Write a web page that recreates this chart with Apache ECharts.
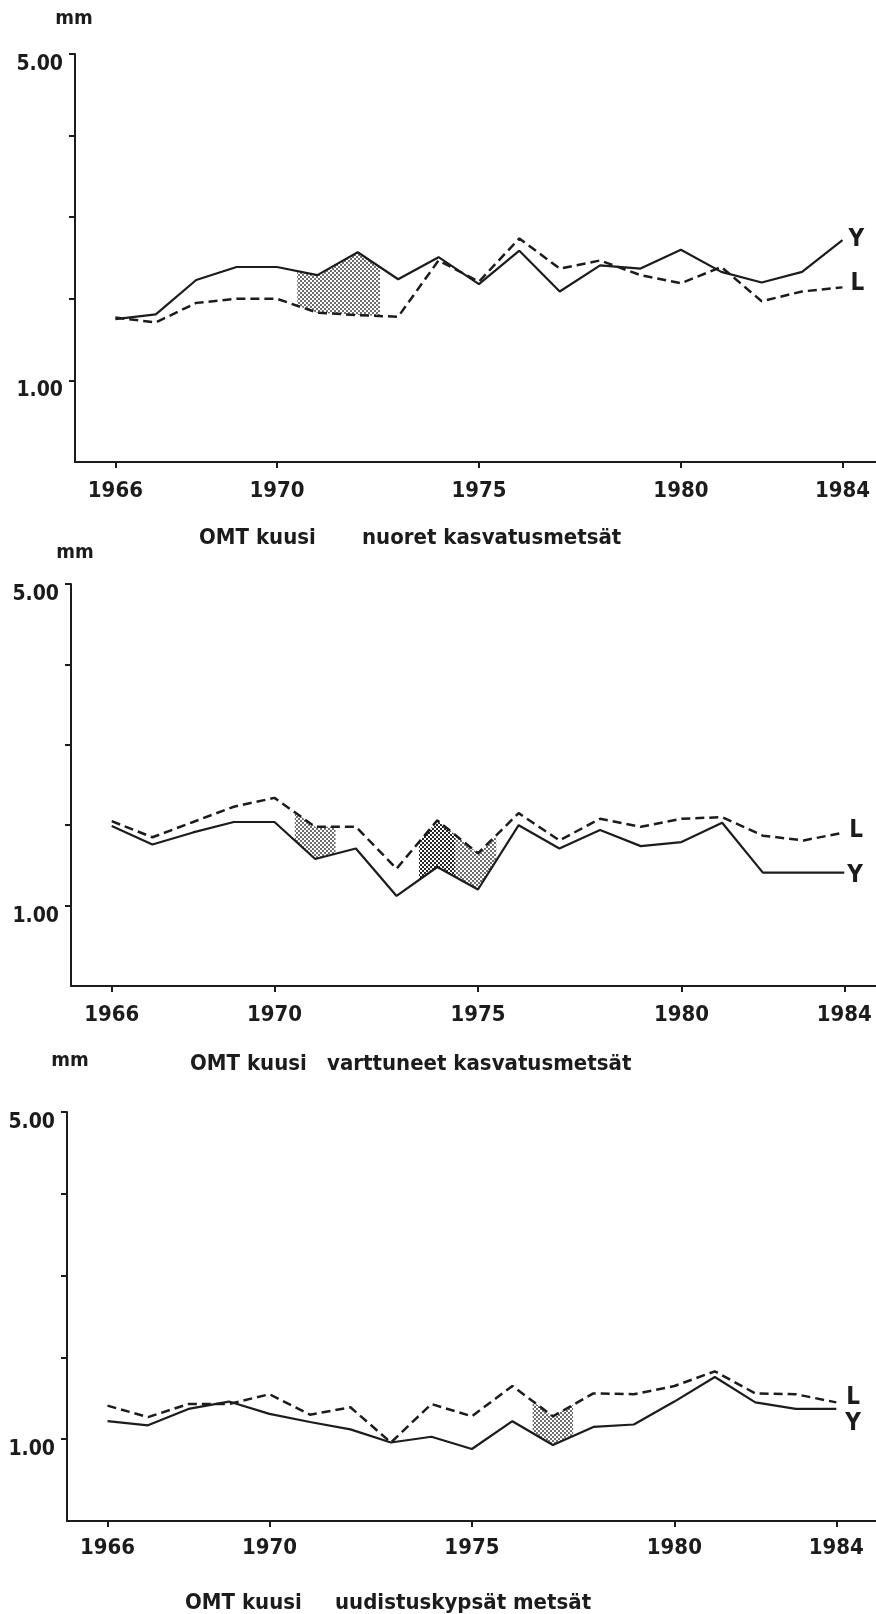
<!DOCTYPE html>
<html>
<head>
<meta charset="utf-8">
<script src="https://cdn.jsdelivr.net/npm/echarts@6/dist/echarts.min.js"></script>
<style>
  html, body { margin: 0; padding: 0; background: #fff; }
  #main { width: 876px; height: 1614px; }
</style>
</head>
<body>
<div id="main"></div>
<script>
// years on the x axis and the labelled ones
var years = [1966, 1967, 1968, 1969, 1970, 1971, 1972, 1973, 1974, 1975,
             1976, 1977, 1978, 1979, 1980, 1981, 1982, 1983, 1984];
var yearTicks = [1966, 1970, 1975, 1980, 1984];
var mmTicks = [1, 2, 3, 4, 5];
var mmLabels = [1, 5];

// nuoret kasvatusmetsät
var youngY = [1.75, 1.81, 2.23, 2.39, 2.39, 2.29, 2.57, 2.24, 2.51, 2.18,
              2.59, 2.09, 2.41, 2.37, 2.60, 2.33, 2.20, 2.33, 2.72];
var youngL = [1.77, 1.71, 1.95, 2.00, 2.00, 1.83, 1.80, 1.78, 2.47, 2.21,
              2.74, 2.37, 2.47, 2.29, 2.19, 2.39, 1.97, 2.09, 2.14];
// varttuneet kasvatusmetsät
var matureY = [1.99, 1.76, 1.91, 2.04, 2.04, 1.58, 1.71, 1.12, 1.48, 1.20,
               2.00, 1.71, 1.94, 1.74, 1.79, 2.03, 1.41, 1.41, 1.41];
var matureL = [2.05, 1.85, 2.04, 2.23, 2.34, 1.98, 1.98, 1.46, 2.06, 1.65,
               2.15, 1.81, 2.08, 1.98, 2.08, 2.10, 1.87, 1.81, 1.91];
// uudistuskypsät metsät
var oldY = [1.22, 1.17, 1.37, 1.46, 1.31, 1.21, 1.12, 0.96, 1.03, 0.88,
            1.22, 0.93, 1.15, 1.18, 1.46, 1.76, 1.45, 1.37, 1.37];
var oldL = [1.41, 1.27, 1.43, 1.43, 1.55, 1.30, 1.39, 0.96, 1.43, 1.28,
            1.65, 1.28, 1.56, 1.55, 1.65, 1.83, 1.56, 1.55, 1.45];

// stippled year ranges between the two lines: [from, to, dark?]
var youngShade = [[1970.5, 1972.55, 0]];
var matureShade = [[1970.5, 1971.5, 0], [1973.55, 1974.45, 1], [1974.45, 1975.45, 0]];
var oldShade = [[1976.5, 1977.5, 0]];

var titles = [
  ['OMT kuusi', 'nuoret kasvatusmetsät'],
  ['OMT kuusi', 'varttuneet kasvatusmetsät'],
  ['OMT kuusi', 'uudistuskypsät metsät']
];

var FONT = "'Liberation Sans Narrow', 'DejaVu Sans Condensed', 'Liberation Sans', sans-serif";
var INK = '#1c1c1c';

function stipple(dark) {
  var c = document.createElement('canvas');
  c.width = 4; c.height = 4;
  var g = c.getContext('2d');
  g.fillStyle = dark ? '#262626' : '#6e6e6e';
  g.fillRect(0, 0, 2, 2);
  g.fillRect(2, 2, 2, 2);
  return c;
}
var dots = [stipple(false), stipple(true)];

function valueAt(arr, x) {
  var i = Math.min(Math.floor(x - years[0]), arr.length - 2);
  var t = x - years[0] - i;
  return arr[i] + (arr[i + 1] - arr[i]) * t;
}

function shadeRenderer(a, b) {
  return function (params, api) {
    var x0 = api.value(0), x1 = api.value(1);
    var xs = [x0];
    for (var yr = Math.ceil(x0); yr < x1; yr++) { if (yr > x0) xs.push(yr); }
    xs.push(x1);
    var pts = [];
    xs.forEach(function (x) { pts.push(api.coord([x, valueAt(a, x)])); });
    xs.slice().reverse().forEach(function (x) { pts.push(api.coord([x, valueAt(b, x)])); });
    return {
      type: 'polygon',
      shape: { points: pts },
      style: { fill: { image: dots[api.value(2)], repeat: 'repeat' }, stroke: null }
    };
  };
}

var panels = [
  { left: 75, top: 54, height: 408, max: 1984.83, Y: youngY, L: youngL, shade: youngShade,
    yOff: [6, 0], lOff: [8, -4], xMargin: 18 },
  { left: 71, top: 584, height: 402, max: 1984.78, Y: matureY, L: matureL, shade: matureShade,
    yOff: [3, 3], lOff: [5, -2], xMargin: 18 },
  { left: 67, top: 1112, height: 409, max: 1984.98, Y: oldY, L: oldL, shade: oldShade,
    yOff: [9, 15], lOff: [10, -5], xMargin: 16 }
];

var grid = [], xAxis = [], yAxis = [], series = [];
var axisLine = { show: true, onZero: false, lineStyle: { color: INK, width: 2 } };
var tickStyle = { color: INK, width: 2 };

panels.forEach(function (p, k) {
  grid.push({ left: p.left, top: p.top, width: 876 - p.left, height: p.height });
  xAxis.push({
    gridIndex: k, type: 'value', min: 1965, max: p.max,
    axisLine: axisLine,
    axisTick: { show: true, customValues: yearTicks, length: 6, lineStyle: tickStyle },
    axisLabel: {
      customValues: yearTicks, margin: p.xMargin, color: INK,
      fontFamily: FONT, fontSize: 22, fontWeight: 'bold',
      formatter: function (v) { return String(v); }
    },
    splitLine: { show: false }
  });
  yAxis.push({
    gridIndex: k, type: 'value', min: 0, max: 5, interval: 1,
    axisLine: axisLine,
    axisTick: { show: true, customValues: mmTicks, length: 6, lineStyle: tickStyle },
    axisLabel: {
      customValues: mmLabels, margin: 12, color: INK, verticalAlign: 'top',
      fontFamily: FONT, fontSize: 21, fontWeight: 'bold',
      formatter: function (v) { return v.toFixed(2); }
    },
    splitLine: { show: false }
  });

  series.push({
    type: 'custom', xAxisIndex: k, yAxisIndex: k, silent: true, z: 1,
    data: p.shade, encode: { x: [0, 1] },
    renderItem: shadeRenderer(p.Y, p.L)
  });

  function endLabel(text, off) {
    return {
      show: true, formatter: text, distance: 0, offset: off,
      color: INK, fontFamily: FONT, fontSize: 24, fontWeight: 'bold'
    };
  }

  series.push({
    name: 'Y', type: 'line', xAxisIndex: k, yAxisIndex: k, z: 3,
    data: years.map(function (y, i) { return [y, p.Y[i]]; }),
    symbol: 'none', silent: true,
    lineStyle: { color: INK, width: 2.2 },
    endLabel: endLabel('Y', p.yOff)
  });
  series.push({
    name: 'L', type: 'line', xAxisIndex: k, yAxisIndex: k, z: 3,
    data: years.map(function (y, i) { return [y, p.L[i]]; }),
    symbol: 'none', silent: true,
    lineStyle: { color: INK, width: 2.5, type: [9, 5] },
    endLabel: endLabel('L', p.lOff)
  });
});

function txt(x, y, s, size, align) {
  return {
    type: 'text', x: x, y: y, silent: true,
    style: {
      text: s, fill: INK, font: 'bold ' + size + 'px ' + FONT,
      textAlign: align || 'left', textVerticalAlign: 'middle'
    }
  };
}

var graphic = [
  txt(74, 19, 'mm', 20, 'center'),
  txt(75, 553, 'mm', 20, 'center'),
  txt(70, 1061, 'mm', 20, 'center'),
  txt(199, 538, titles[0][0], 22), txt(362, 538, titles[0][1], 22),
  txt(190, 1064, titles[1][0], 22), txt(327, 1064, titles[1][1], 22),
  txt(185, 1603, titles[2][0], 22), txt(335, 1603, titles[2][1], 22)
];

var chart = echarts.init(document.getElementById('main'), null, { renderer: 'canvas' });
chart.setOption({
  backgroundColor: '#fff',
  animation: false,
  grid: grid,
  xAxis: xAxis,
  yAxis: yAxis,
  series: series,
  graphic: graphic
});
</script>
</body>
</html>
